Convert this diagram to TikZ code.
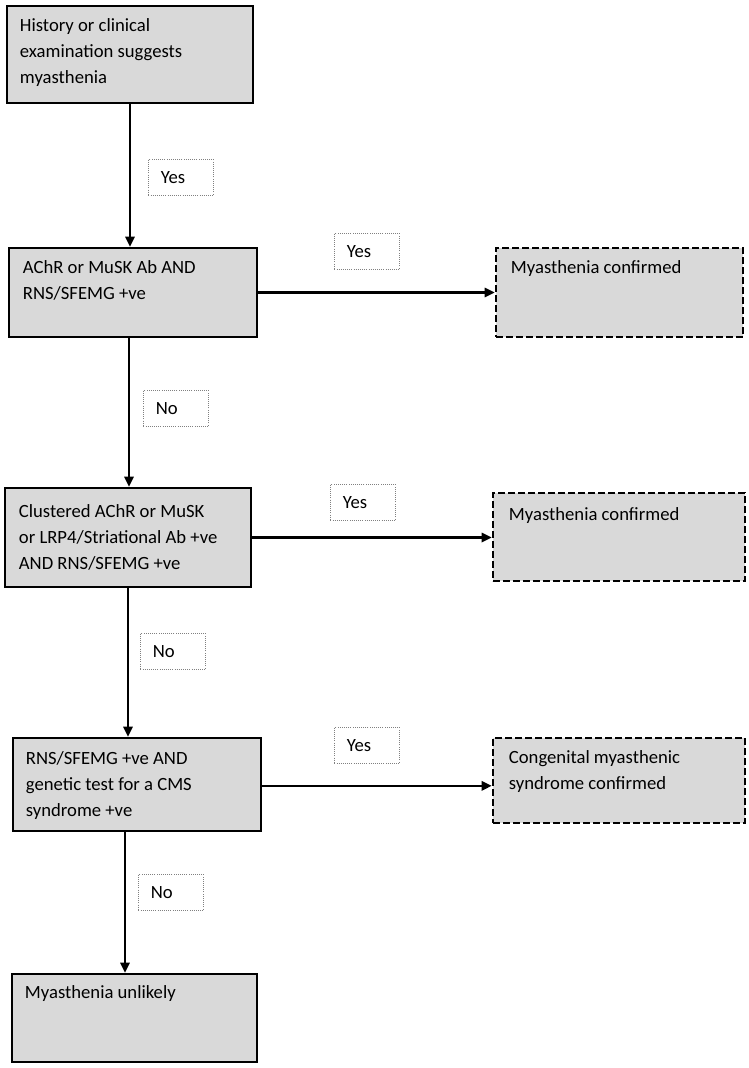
\documentclass[tikz,border=0pt]{standalone}
\usepackage{fontspec}
\setmainfont{Carlito}
\usetikzlibrary{arrows.meta,fit}

\tikzset{
  stepbox/.style={draw, line width=2pt, fill=black!15, inner sep=0pt},
  endbox/.style={stepbox, dash pattern=on 5pt off 2.5pt},
  boxtext/.style={anchor=base west, align=left, inner sep=0pt,
    font=\fontsize{14}{19.5}\selectfont},
  answer/.style={draw=gray, densely dotted, line width=0.6pt, fill=white,
    anchor=north west, minimum width=48.75pt, minimum height=27pt,
    text width=30pt, align=left, inner xsep=9.4pt,
    font=\fontsize{14}{15}\selectfont},
  flow/.style={-{Triangle[length=7.5pt,width=7pt]}, line width=1.6pt}
}

\begin{document}
\begin{tikzpicture}[x=0.75pt,y=-0.75pt]
  \useasboundingbox (0,0) rectangle (749,1068);

  % Spoergsmaal
  \node[stepbox, fit={(7,6)(253,103)}] (q1) {};
  \node[stepbox, fit={(9,248)(257,337)}] (q2) {};
  \node[stepbox, fit={(5,488)(251,587)}] (q3) {};
  \node[stepbox, fit={(13,738)(261,831)}] (q4) {};
  \node[stepbox, fit={(12,974)(257,1062)}] (q5) {};

  % Konklusjoner
  \node[endbox, fit={(496,248)(743,337)}] (r1) {};
  \node[endbox, fit={(493,493)(745,581)}] (r2) {};
  \node[endbox, fit={(493,738)(745,823)}] (r3) {};

  % Tekst (base = siste linje, 26 px per linje)
  \node[boxtext] (q1t) at ([shift={(14,79)}]q1.north west)
    {History or clinical\\examination suggests\\myasthenia};
  \node[boxtext] (q2t) at ([shift={(15,53)}]q2.north west)
    {AChR or MuSK Ab AND\\RNS/SFEMG +ve};
  \node[boxtext] (q3t) at ([shift={(15,83)}]q3.north west)
    {Clustered AChR or MuSK\\or LRP4/Striational Ab +ve\\AND RNS/SFEMG +ve};
  \node[boxtext] (q4t) at ([shift={(14,80)}]q4.north west)
    {RNS/SFEMG +ve AND\\genetic test for a CMS\\syndrome +ve};
  \node[boxtext] (q5t) at ([shift={(14,26)}]q5.north west)
    {Myasthenia unlikely};
  \node[boxtext] (r1t) at ([shift={(16,27)}]r1.north west)
    {Myasthenia confirmed};
  \node[boxtext] (r2t) at ([shift={(17,29)}]r2.north west)
    {Myasthenia confirmed};
  \node[boxtext] (r3t) at ([shift={(17,53)}]r3.north west)
    {Congenital myasthenic\\syndrome confirmed};

  % Piler
  \draw[flow] (q1.south) -- (q1.south |- q2.north);
  \draw[flow] ([xshift=-3]q2.south) -- ([xshift=-3]q2.south |- q3.north);
  \draw[flow] (q3.south) -- (q3.south |- q4.north);
  \draw[flow] ([xshift=-9]q4.south) -- ([xshift=-9]q4.south |- q5.north);
  \draw[flow] (q2.east) -- (r1.west);
  \draw[flow] (q3.east) -- (q3.east -| r2.west);
  \draw[flow] ([yshift=-1]q4.east) -- ([yshift=-1]q4.east -| r3.west);

  % Svar
  \foreach \n/\x/\y/\svar in {a1/148/159/Yes, a2/334/233/Yes, a3/143/390/No,
      a4/330/484/Yes, a5/140/633/No, a6/334/727/Yes, a7/138/874/No} {
    \node[answer] (\n) at (\x,\y) {\svar};
  }
\end{tikzpicture}
\end{document}
